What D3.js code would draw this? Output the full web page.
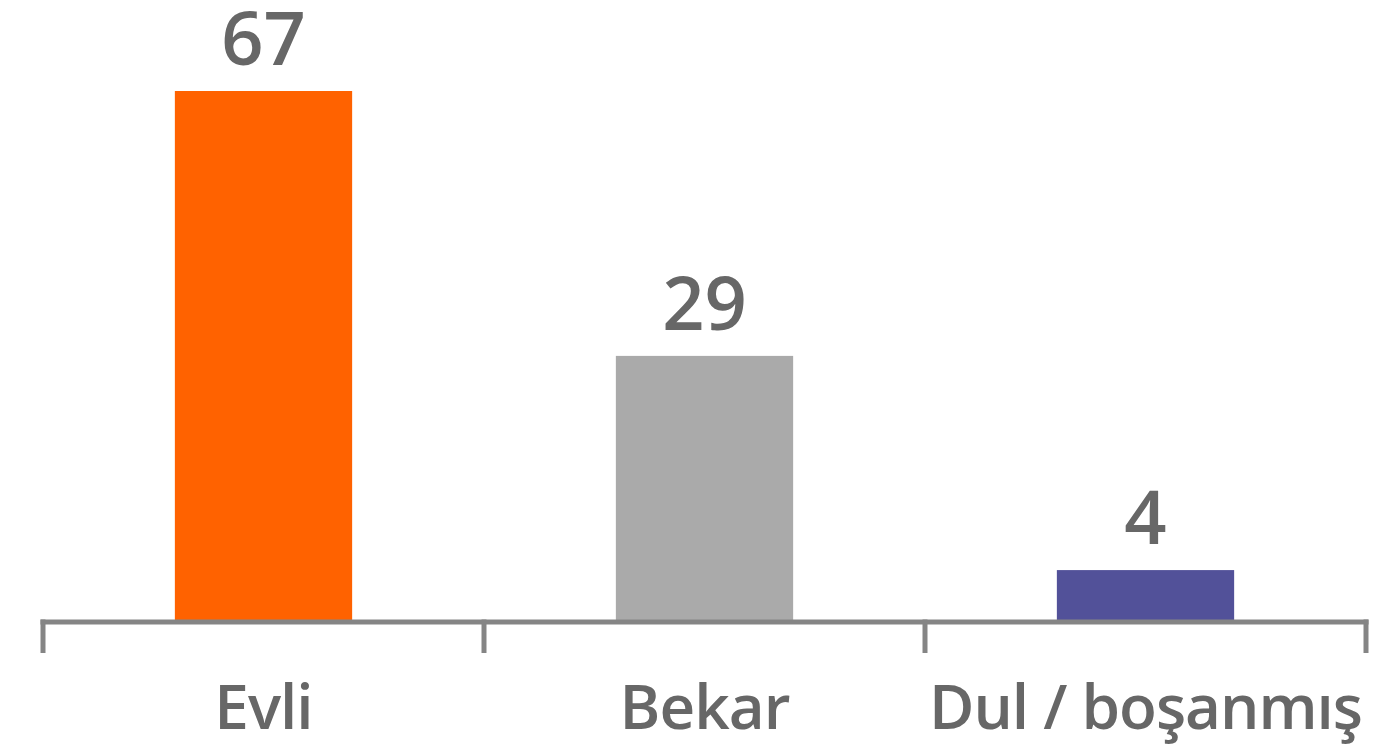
<!DOCTYPE html>
<html>
<head>
<meta charset="utf-8">
<script src="https://cdn.jsdelivr.net/npm/d3@7"></script>
<style>
  html, body { margin: 0; padding: 0; background: #ffffff; }
  svg { display: block; }
  text { font-family: "Open Sans", "Noto Sans", sans-serif; font-weight: 600; fill: #676767; }
</style>
</head>
<body>
<svg id="chart" width="1389" height="752"></svg>
<script>
// Marital status distribution (%)
const categories = ["Evli", "Bekar", "Dul / boşanmış"];
const values = [67, 29, 4];
const colors = ["#ff6200", "#aaaaaa", "#525199"];

const svg = d3.select("#chart");
const baseline = 622;

const x = d3.scaleBand()
  .domain(categories)
  .range([43, 1366])
  .padding(0);

const y = d3.scalePow()
  .exponent(0.825)
  .domain([0, 67])
  .range([baseline, 91]);

const barWidth = x.bandwidth() * 0.402;

// Bars
svg.selectAll("rect.bar")
  .data(categories)
  .join("rect")
  .attr("class", "bar")
  .attr("x", d => x(d) + (x.bandwidth() - barWidth) / 2)
  .attr("y", (d, i) => y(values[i]))
  .attr("width", barWidth)
  .attr("height", (d, i) => baseline - y(values[i]))
  .attr("fill", (d, i) => colors[i]);

// Value labels
svg.selectAll("text.value")
  .data(categories)
  .join("text")
  .attr("class", "value")
  .attr("x", d => x(d) + x.bandwidth() / 2)
  .attr("y", (d, i) => y(values[i]) - 26)
  .attr("text-anchor", "middle")
  .style("font-size", "74px")
  .text((d, i) => values[i]);

// Category axis: baseline plus boundary ticks
const axis = svg.append("g");
const edges = categories.map(d => x(d)).concat([x(categories[categories.length - 1]) + x.bandwidth()]);

axis.append("line")
  .attr("x1", edges[0] - 2.5)
  .attr("x2", edges[edges.length - 1] + 2.5)
  .attr("y1", baseline)
  .attr("y2", baseline)
  .attr("stroke", "#858585")
  .attr("stroke-width", 5);

axis.selectAll("line.tick")
  .data(edges)
  .join("line")
  .attr("class", "tick")
  .attr("x1", d => d)
  .attr("x2", d => d)
  .attr("y1", baseline - 2.5)
  .attr("y2", 653)
  .attr("stroke", "#858585")
  .attr("stroke-width", 5);

// Category labels
svg.selectAll("text.cat")
  .data(categories)
  .join("text")
  .attr("class", "cat")
  .attr("x", d => x(d) + x.bandwidth() / 2)
  .attr("y", 729)
  .attr("text-anchor", "middle")
  .style("font-size", "62px")
  .style("letter-spacing", "-1px")
  .text(d => d);
</script>
</body>
</html>
